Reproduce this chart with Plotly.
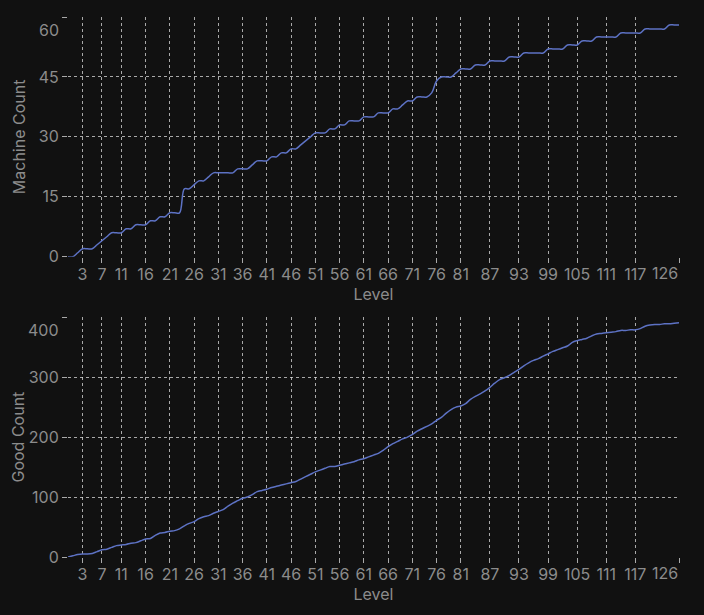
import plotly.graph_objects as go
from plotly.subplots import make_subplots

levels = list(range(0, 127))

machine_count = [
    0, 0, 1, 2, 2, 2, 3, 4, 5, 6,      # 0-9
    6, 6, 7, 7, 8, 8, 8, 9, 9, 10,     # 10-19
    10, 11, 11, 11, 17, 17, 18, 19, 19, 20,  # 20-29
    21, 21, 21, 21, 21, 22, 22, 22, 23, 24,  # 30-39
    24, 24, 25, 25, 26, 26, 27, 27, 28, 29,  # 40-49
    30, 31, 31, 31, 32, 32, 33, 33, 34, 34,  # 50-59
    34, 35, 35, 35, 36, 36, 36, 37, 37, 38,  # 60-69
    39, 39, 40, 40, 40, 41, 44, 45, 45, 45,  # 70-79
    46, 47, 47, 47, 48, 48, 48, 49, 49, 49,  # 80-89
    49, 50, 50, 50, 51, 51, 51, 51, 51, 52,  # 90-99
    52, 52, 52, 53, 53, 53, 54, 54, 54, 55,  # 100-109
    55, 55, 55, 55, 56, 56, 56, 56, 56, 57,  # 110-119
    57, 57, 57, 57, 58, 58, 58,              # 120-126
]

good_count = [
    0, 2, 4, 5, 5, 6, 9, 12, 13, 16,
    19, 20, 21, 23, 24, 27, 30, 31, 36, 40,
    41, 43, 44, 47, 52, 56, 59, 64, 67, 69,
    73, 76, 79, 85, 90, 94, 98, 100, 104, 109,
    111, 113, 116, 118, 120, 122, 124, 126, 130, 134,
    138, 142, 145, 148, 151, 151, 153, 155, 157, 159,
    162, 164, 167, 170, 173, 178, 184, 189, 193, 197,
    200, 204, 210, 214, 218, 222, 228, 233, 240, 246,
    250, 252, 256, 263, 268, 272, 277, 283, 290, 296,
    299, 303, 308, 313, 319, 324, 328, 331, 335, 339,
    343, 346, 349, 352, 358, 361, 363, 365, 369, 372,
    373, 374, 375, 376, 378, 378, 379, 379, 381, 385,
    387, 388, 388, 389, 389, 390, 391,
]

x_tickvals = [3, 7, 11, 16, 21, 26, 31, 36, 41, 46, 51, 56, 61, 66, 71, 76,
              81, 87, 93, 99, 105, 111, 117, 126]
machine_ticks = [0, 15, 30, 45, 60]
good_ticks = [0, 100, 200, 300, 400]

BG = "#111111"
TXT = "#8c8c8c"
GRID = "rgba(220,220,220,0.75)"
LINE = "#5d72c4"
FONT = "Inter, Roboto, sans-serif"
FS = 16

fig = make_subplots(rows=2, cols=1, vertical_spacing=0.112)

fig.add_trace(go.Scatter(x=levels, y=machine_count, mode="lines",
                         line=dict(color=LINE, width=1.5, shape="spline"),
                         showlegend=False), row=1, col=1)
fig.add_trace(go.Scatter(x=levels, y=good_count, mode="lines",
                         line=dict(color=LINE, width=1.5, shape="spline"),
                         showlegend=False), row=2, col=1)

xcommon = dict(
    range=[0, 126], tickmode="array", tickvals=x_tickvals,
    ticktext=[str(t) for t in x_tickvals[:-1]] + [""],
    showgrid=True, gridcolor=GRID, griddash="3px,3px", gridwidth=1,
    zeroline=False, showline=False, automargin=False,
    ticks="outside", ticklen=5, tickcolor=GRID, ticklabelstandoff=-2,
    tickfont=dict(size=FS, color=TXT, family=FONT),
    title=dict(text="Level", font=dict(size=FS, color=TXT, family=FONT), standoff=0),
    minor=dict(tickmode="array", tickvals=[0], showgrid=True, gridcolor=GRID,
               griddash="3px,3px", ticks=""),
)
fig.update_xaxes(**xcommon, row=1, col=1)
fig.update_xaxes(**xcommon, row=2, col=1)

def ycommon(ticks, title, top, standoff):
    return dict(
        range=[0, top], tickmode="array", tickvals=ticks,
        ticktext=[str(t) for t in ticks[:-1]] + [""],
        showgrid=True, gridcolor=GRID, griddash="3px,3px", gridwidth=1,
        zeroline=False, showline=False, automargin=False,
        ticks="outside", ticklen=5, tickcolor=GRID,
        tickfont=dict(size=FS, color=TXT, family=FONT),
        title=dict(text=title, font=dict(size=FS, color=TXT, family=FONT),
                   standoff=standoff),
    )

fig.update_yaxes(**ycommon(machine_ticks, "Machine Count", 60, 9), row=1, col=1)
fig.update_yaxes(**ycommon(good_ticks, "Good Count", 400, 0), row=2, col=1)

# end tick labels are kept inside the plot edges, as in the reference
for yref, t in (("y domain", machine_ticks[-1]), ("y2 domain", good_ticks[-1])):
    fig.add_annotation(text=str(t), xref="paper", x=0, xanchor="right", xshift=-7,
                       yref=yref, y=1, yanchor="middle", yshift=-13,
                       showarrow=False, font=dict(size=FS, color=TXT, family=FONT))
for xref, yref in (("x", "y domain"), ("x2", "y2 domain")):
    fig.add_annotation(text=str(x_tickvals[-1]), xref=xref, x=x_tickvals[-1],
                       xanchor="right", xshift=1, yref=yref, y=0, yanchor="top",
                       yshift=-4, showarrow=False,
                       font=dict(size=FS, color=TXT, family=FONT))

fig.update_layout(
    width=704, height=615,
    paper_bgcolor=BG, plot_bgcolor=BG,
    margin=dict(l=68, r=25, t=17, b=58),
    font=dict(family=FONT, color=TXT, size=FS),
)

fig.write_html(
    "out.html",
    config={"displayModeBar": False},
    post_script="document.body.style.margin='0';document.body.style.background='#111111';",
)
